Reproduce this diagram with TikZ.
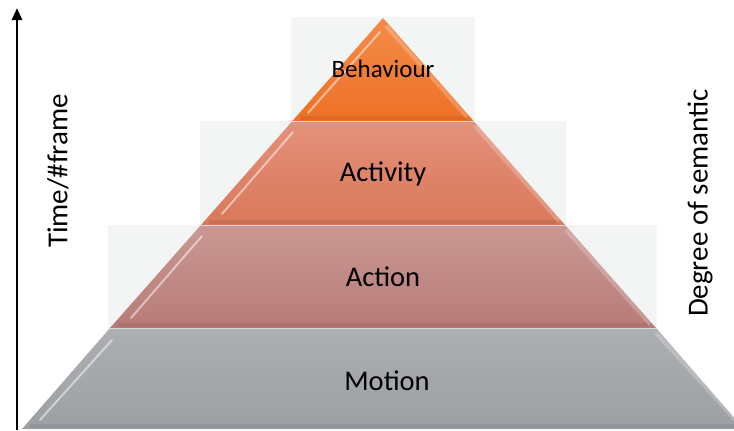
\documentclass[tikz,border=0pt]{standalone}
\usepackage{fontspec}
\setmainfont{Carlito}
\usepackage{tikz}
\usetikzlibrary{arrows.meta}
\definecolor{bgbox}{HTML}{F3F5F5}
\definecolor{behtop}{HTML}{F38C48}
\definecolor{behbot}{HTML}{EE7026}
\definecolor{acttop}{HTML}{E4917B}
\definecolor{actbot}{HTML}{D9785A}
\definecolor{acntop}{HTML}{CA9894}
\definecolor{acnbot}{HTML}{B77B77}
\definecolor{motop}{HTML}{ADAFB2}
\definecolor{motbot}{HTML}{9C9FA3}

\begin{document}
\begin{tikzpicture}[x=1pt,y=-1pt]
  \tikzset{layerbox/.style={fill=bgbox,draw=none}}
  \tikzset{layeredge/.style={draw=white!70!gray,line width=0.8pt}}
  \tikzset{bevel/.style={draw=white,opacity=0.5,line width=2pt,line cap=round}}
  \tikzset{sidebevel/.style={draw=white,opacity=0.22,line width=4pt}}
  \tikzset{basebevel/.style={draw=black,opacity=0.07,line width=4pt}}
  \tikzset{layerlabel/.style={font=\fontsize{28.5}{30}\selectfont,text=black,inner sep=0pt}}
  \tikzset{sidelabel/.style={font=\fontsize{29}{31}\selectfont,text=black,inner sep=0pt,rotate=90}}
  \tikzset{timearrow/.style={draw=black,line width=2.6pt,-{Triangle[length=12pt,width=10pt]}}}
  \useasboundingbox (0,0) rectangle (734,431);
  \clip (0,0) rectangle (734,431);
  % layer corners
  \coordinate (apex) at (383,18);
  \coordinate (l1) at (292.4,121); \coordinate (r1) at (473.6,121);
  \coordinate (l2) at (201,225);   \coordinate (r2) at (565,225);
  \coordinate (l3) at (110,328);   \coordinate (r3) at (656,328);
  \coordinate (l4) at (22,429);    \coordinate (r4) at (744,429);
  % light boxes behind the layers
  \fill[layerbox] (291,17) rectangle (475,121);
  \fill[layerbox] (200,121) rectangle (566,225);
  \fill[layerbox] (108,225) rectangle (657,328);
  % layers
  \shade[top color=behtop,bottom color=behbot] (apex) -- (r1) -- (l1) -- cycle;
  \shade[top color=acttop,bottom color=actbot] (l1) -- (r1) -- (r2) -- (l2) -- cycle;
  \shade[top color=acntop,bottom color=acnbot] (l2) -- (r2) -- (r3) -- (l3) -- cycle;
  \shade[top color=motop,bottom color=motbot] (l3) -- (r3) -- (r4) -- (l4) -- cycle;
  % bevels
  \draw[basebevel] (300,118) -- (466,118);
  \draw[basebevel] (209,222) -- (557,222);
  \draw[basebevel] (118,325) -- (648,325);
  \draw[basebevel] (30,426) -- (736,426);
  \draw[sidebevel] (386,26) -- (467,117);
  \draw[sidebevel] (475,126) -- (559,221);
  \draw[sidebevel] (566,230) -- (650,324);
  \draw[sidebevel] (656,333) -- (740,425);
  \draw[bevel] (380,32) -- (308,113);
  \draw[bevel] (293,132) -- (222,214);
  \draw[bevel] (202,236) -- (131,318);
  \draw[bevel] (112,340) -- (40,420);
  \draw[layeredge] (l1) -- (r1);
  \draw[layeredge] (l2) -- (r2);
  \draw[layeredge] (l3) -- (r3);
  % labels
  \node[layerlabel,font=\fontsize{25}{27}\selectfont] (beh) at (383,69) {Behaviour};
  \node[layerlabel] (act) at (383,174) {Activity};
  \node[layerlabel] (acn) at (383,277) {Action};
  \node[layerlabel] (mot) at (387,381) {Motion};
  % axes
  \coordinate (tbot) at (17,430);
  \coordinate (ttop) at (17,8);
  \draw[timearrow] (tbot) -- (ttop);
  \node[sidelabel] (time) at (58,171) {Time/\#frame};
  \node[sidelabel] (sem) at (700,203) {Degree of semantic};
\end{tikzpicture}
\end{document}
